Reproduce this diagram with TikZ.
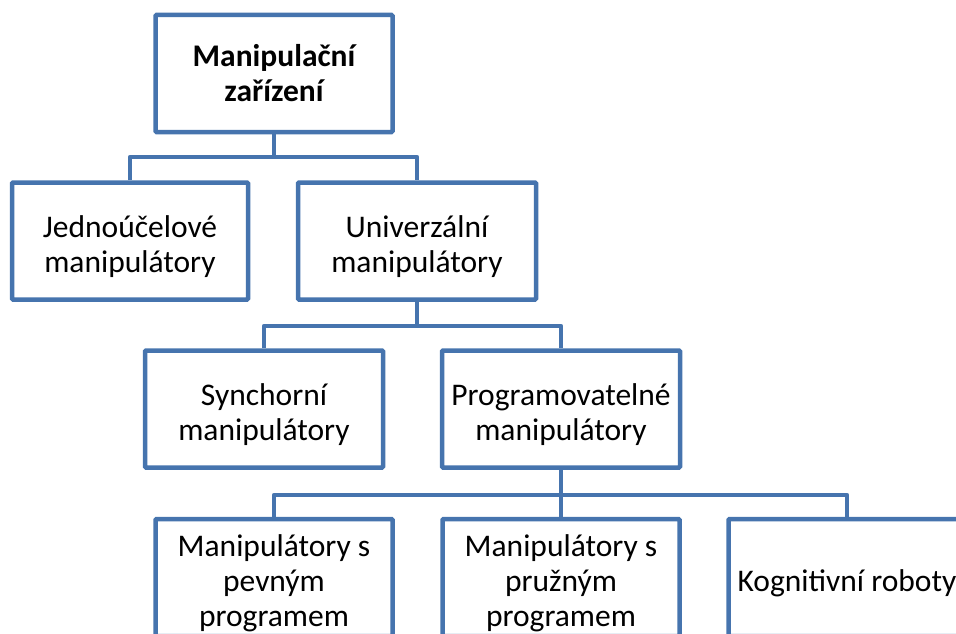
\documentclass[tikz,border=0pt]{standalone}
\usepackage{fontspec}
\setmainfont{Carlito}
\definecolor{boxblue}{RGB}{70,116,174}
\newcommand\tstrut{\rule{0pt}{34pt}}
\begin{document}
\begin{tikzpicture}[x=1pt,y=-1pt,
  box/.style={draw=boxblue,line width=4.5pt,fill=white,rectangle,rounded corners=1pt,
    minimum width=237pt,minimum height=117pt,inner sep=0pt,align=center,
    font=\fontsize{31.5}{35}\selectfont},
  conn/.style={draw=boxblue,line width=4.5pt,line join=round}]
\useasboundingbox (0,0) rectangle (956,634);
\clip (0,0) rectangle (956,634);
\coordinate (bus1) at (0,157);
\coordinate (bus2) at (0,326);
\coordinate (bus3) at (0,495);
\node[box,font=\bfseries\fontsize{31.5}{35}\selectfont] (top) at (274,73.5) {Manipulační\\zařízení};
\node[box,minimum width=236pt] (j) at (130,241) {\tstrut Jednoúčelové\\manipulátory};
\node[box,minimum width=238pt] (u) at (417,241) {\tstrut Univerzální\\manipulátory};
\node[box,minimum width=238pt] (s) at (264,409) {\tstrut Synchorní\\manipulátory};
\node[box,minimum width=238pt] (p) at (561,409) {\tstrut Programovatelné\\manipulátory};
\node[box] (b1) at (274,577.5) {\tstrut Manipulátory s\\pevným\\programem};
\node[box] (b2) at (561,577.5) {\tstrut Manipulátory s\\pružným\\programem};
\node[box] (b3) at (847,577.5) {\tstrut Kognitivní roboty};
\draw[conn] (top.south) -- (top.south |- bus1);
\draw[conn] (j.north) -- (j.north |- bus1) -- (u.north |- bus1) -- (u.north);
\draw[conn] (u.south) -- (u.south |- bus2);
\draw[conn] (s.north) -- (s.north |- bus2) -- (p.north |- bus2) -- (p.north);
\draw[conn] (p.south) -- (p.south |- bus3);
\draw[conn] (b1.north) -- (b1.north |- bus3) -- (b3.north |- bus3) -- (b3.north);
\draw[conn] (b2.north) -- (b2.north |- bus3);
\end{tikzpicture}
\end{document}
